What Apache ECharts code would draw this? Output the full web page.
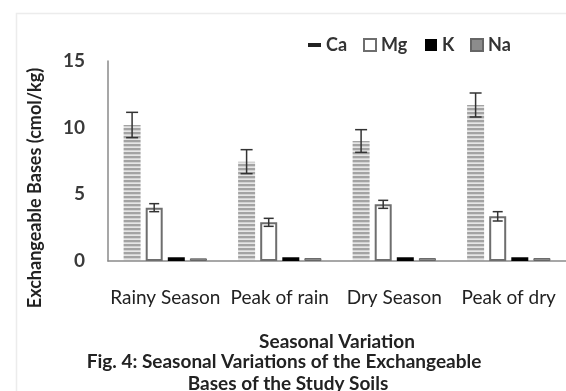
<!DOCTYPE html>
<html>
<head>
<meta charset="utf-8">
<style>
  html, body { margin: 0; padding: 0; background: #fff; }
  #chart { width: 566px; height: 391px; }
</style>
<script src="https://cdn.jsdelivr.net/npm/echarts@6/dist/echarts.min.js"></script>
</head>
<body>
<div id="chart"></div>
<script>
// Seasons (x categories)
const categories = ['Rainy Season', 'Peak of rain', 'Dry Season', 'Peak of dry'];
// Mean exchangeable bases, cmol/kg
const ca = [10.2, 7.45, 9.0, 11.7];
const mg = [4.0, 2.9, 4.25, 3.35];
const k  = [0.28, 0.28, 0.28, 0.28];
const na = [0.2, 0.22, 0.22, 0.22];
// Standard errors
const caErr = [0.95, 0.9, 0.85, 0.9];
const mgErr = [0.3, 0.3, 0.3, 0.35];
// Y axis ticks
const yTicks = { min: 0, max: 15, step: 5 };

const FONT = 'Lato, "Open Sans", sans-serif';
const BAR_W = 17;
const BAR_GAP = 0.3;

// Horizontal stripe fill for the Ca bars
function stripePattern() {
  const c = document.createElement('canvas');
  c.width = 8; c.height = 4;
  const g = c.getContext('2d');
  const rows = ['#a3a3a3', '#a3a3a3', '#d2d2d2', '#e6e6e6'];
  rows.forEach((col, r) => { g.fillStyle = col; g.fillRect(0, r, 8, 1); });
  return c;
}
const stripes = { image: stripePattern(), repeat: 'repeat' };

// Offset of the n-th bar (of 4) from the category centre
function barOffset(n) {
  const step = BAR_W * (1 + BAR_GAP);
  return (n - 1.5) * step;
}

function errorSeries(name, means, errs, n, cap) {
  return {
    type: 'custom',
    name: name + ' SE',
    z: 5,
    silent: true,
    data: means.map((m, i) => [i, m - errs[i], m + errs[i]]),
    renderItem: function (params, api) {
      const idx = api.value(0);
      const lo = api.coord([idx, api.value(1)]);
      const hi = api.coord([idx, api.value(2)]);
      const x = lo[0] + barOffset(n);
      const st = { stroke: '#333', lineWidth: 1.5 };
      return {
        type: 'group',
        children: [
          { type: 'line', shape: { x1: x, y1: lo[1], x2: x, y2: hi[1] }, style: st },
          { type: 'line', shape: { x1: x - cap, y1: lo[1], x2: x + cap, y2: lo[1] }, style: st },
          { type: 'line', shape: { x1: x - cap, y1: hi[1], x2: x + cap, y2: hi[1] }, style: st }
        ]
      };
    }
  };
}

const legendText = { fontFamily: FONT, fontSize: 18, fontWeight: 'bold', color: '#333' };
function legendItem(name, left, w, h) {
  return {
    data: [name], left: left, top: 31,
    itemWidth: w, itemHeight: h, icon: 'rect',
    textStyle: legendText
  };
}

const chart = echarts.init(document.getElementById('chart'), null, { renderer: 'canvas' });

chart.setOption({
  animation: false,
  textStyle: { fontFamily: FONT },
  grid: { left: 108, top: 61, height: 200, width: 467 },
  legend: [
    Object.assign(legendItem('Ca', 303, 13, 4), { itemStyle: { color: '#222', borderWidth: 0 } }),
    legendItem('Mg', 358, 12, 12),
    legendItem('K', 420, 12, 12),
    legendItem('Na', 465, 12, 12)
  ],
  xAxis: {
    type: 'category',
    data: categories,
    axisLine: { lineStyle: { color: '#8a8a8a', width: 1.5 } },
    axisTick: { show: false },
    axisLabel: { interval: 0, margin: 27, fontFamily: FONT, fontSize: 19, color: '#222' },
    name: 'Seasonal Variation',
    nameLocation: 'middle',
    nameGap: 71,
    nameTextStyle: { fontFamily: FONT, fontSize: 19, fontWeight: 'bold', color: '#222' }
  },
  yAxis: {
    type: 'value',
    min: yTicks.min, max: yTicks.max, interval: yTicks.step,
    axisLine: { show: true, lineStyle: { color: '#8a8a8a', width: 1.5 } },
    axisTick: { show: false },
    splitLine: { show: false },
    axisLabel: { margin: 23, fontFamily: FONT, fontSize: 19, fontWeight: 'bold', color: '#3a3a3a' }
  },
  graphic: [
    {
      type: 'rect', silent: true,
      shape: { x: 16.5, y: 13.5, width: 600, height: 420 },
      style: { fill: null, stroke: '#ececec', lineWidth: 1.5 }
    },
    {
      type: 'text', silent: true,
      x: 35, y: 188, rotation: Math.PI / 2,
      style: {
        text: 'Exchangeable Bases (cmol/kg)',
        font: 'bold 18px ' + FONT, fill: '#222',
        textAlign: 'center', textVerticalAlign: 'middle'
      }
    },
    {
      type: 'text', silent: true,
      x: 284, y: 362,
      style: {
        text: 'Fig. 4: Seasonal Variations of the Exchangeable',
        font: 'bold 19px ' + FONT, fill: '#222',
        textAlign: 'center', textVerticalAlign: 'middle'
      }
    },
    {
      type: 'text', silent: true,
      x: 288, y: 384,
      style: {
        text: 'Bases of the Study Soils',
        font: 'bold 19px ' + FONT, fill: '#222',
        textAlign: 'center', textVerticalAlign: 'middle'
      }
    }
  ],
  series: [
    {
      name: 'Ca', type: 'bar', data: ca,
      barWidth: BAR_W, barGap: (BAR_GAP * 100) + '%',
      itemStyle: { color: stripes }
    },
    {
      name: 'Mg', type: 'bar', data: mg,
      barWidth: BAR_W, barGap: (BAR_GAP * 100) + '%',
      itemStyle: { color: '#fff', borderColor: '#6e6e6e', borderWidth: 2 }
    },
    {
      name: 'K', type: 'bar', data: k,
      barWidth: BAR_W, barGap: (BAR_GAP * 100) + '%',
      itemStyle: { color: '#000' }
    },
    {
      name: 'Na', type: 'bar', data: na,
      barWidth: BAR_W, barGap: (BAR_GAP * 100) + '%',
      itemStyle: { color: '#8c8c8c', borderColor: '#666', borderWidth: 1 }
    },
    errorSeries('Ca', ca, caErr, 0, 6),
    errorSeries('Mg', mg, mgErr, 1, 5)
  ]
});
</script>
</body>
</html>
